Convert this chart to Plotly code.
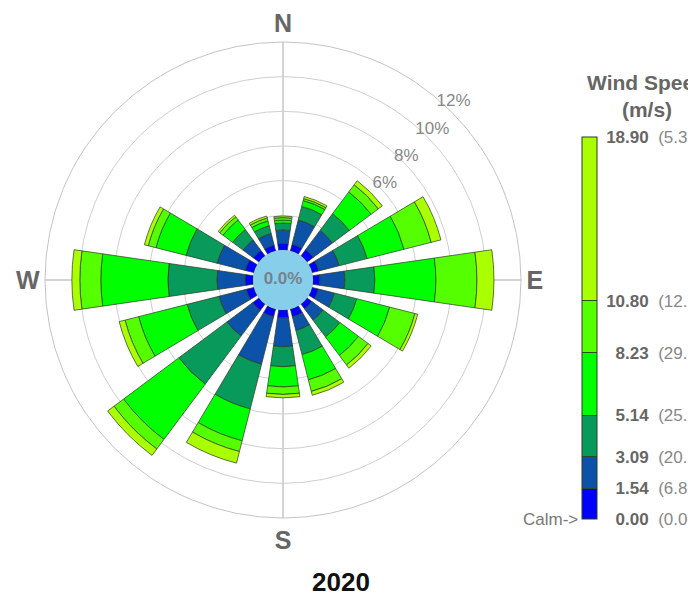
import plotly.graph_objects as go

# ---------------- data ----------------
directions = ["N", "NNE", "NE", "ENE", "E", "ESE", "SE", "SSE",
              "S", "SSW", "SW", "WSW", "W", "WNW", "NW", "NNW"]
speed_edges = [0.00, 1.54, 3.09, 5.14, 8.23, 10.80, 18.90]
legend_pct = ["(0.00%)", "(6.83%)", "(20.52%)", "(25.31%)", "(29.15%)", "(12.29%)", "(5.32%)"]
calm_pct = 0.0
year_label = "2020"

# frequency (%) per speed bin and direction
bin_0_154 = [0.38, 0.40, 0.46, 0.40, 0.40, 0.38, 0.35, 0.46, 0.46, 0.46, 0.46, 0.46, 0.46, 0.52, 0.40, 0.35]
bin_154_309 = [0.78, 1.44, 1.38, 1.21, 1.44, 0.95, 0.81, 0.81, 1.66, 2.83, 1.85, 1.62, 1.62, 1.67, 0.75, 0.69]
bin_309_514 = [0.40, 0.81, 1.21, 1.67, 1.73, 1.33, 1.21, 1.44, 1.15, 2.65, 3.46, 1.90, 2.83, 1.85, 0.75, 0.46]
bin_514_823 = [0.17, 0.35, 1.56, 2.19, 3.52, 1.96, 1.33, 1.50, 1.17, 1.90, 3.98, 2.88, 3.87, 1.79, 0.69, 0.29]
bin_823_1080 = [0.14, 0.12, 0.52, 1.62, 2.37, 1.50, 0.69, 0.69, 0.43, 0.64, 0.69, 0.81, 1.21, 0.46, 0.23, 0.17]
bin_1080_1890 = [0.09, 0.12, 0.29, 0.58, 0.98, 0.17, 0.23, 0.23, 0.20, 0.69, 0.46, 0.35, 0.46, 0.23, 0.12, 0.12]

bins = [bin_0_154, bin_154_309, bin_309_514, bin_514_823, bin_823_1080, bin_1080_1890]
bin_colors = ["#0000FF", "#0B52A8", "#089A5A", "#00FF00", "#55FF00", "#AAFF00"]

radial_ticks = [0, 2, 4, 6, 8, 10, 12]
radial_ticktext = ["", "", "", "6%", "8%", "10%", "12%"]
compass_ticks = [0, 90, 180, 270]
compass_text = ["N", "E", "S", "W"]

# ---------------- figure ----------------
W, H = 688, 601
FONT = "Liberation Sans, Arial, sans-serif"
theta = [i * 360 / len(directions) for i in range(len(directions))]
calm_r = 1.731  # radial extent of the calm disc (axis units)
RAD_ANGLE = 52

fig = go.Figure()

for vals, col, lo, hi in zip(bins, bin_colors, speed_edges[:-1], speed_edges[1:]):
    fig.add_trace(go.Barpolar(
        r=vals, theta=theta, width=16.5,
        marker=dict(color=col, line=dict(color="rgba(45,60,35,0.9)", width=0.8)),
        name=f"{lo:.2f}-{hi:.2f}", showlegend=False,
    ))

# calm disc
fig.add_trace(go.Barpolar(
    r=[calm_r], theta=[0], base=[-calm_r], width=[360],
    marker=dict(color="#87CEEB", line=dict(width=0)),
    showlegend=False, hoverinfo="skip",
))
fig.add_trace(go.Scatterpolar(
    r=[-calm_r], theta=[0], mode="text", text=[f"<b>{calm_pct:.1f}%</b>"],
    textfont=dict(size=17, color="#74838d", family=FONT),
    textposition="middle center", cliponaxis=False, showlegend=False,
))

# colour scale legend (via a colorbar)
cs = []
top = speed_edges[-1]
for lo, hi, col in zip(speed_edges[:-1], speed_edges[1:], bin_colors):
    cs.append([lo / top, col])
    cs.append([hi / top, col])

tick_text = []
for e, p in zip(speed_edges, legend_pct):
    num = f"{e:.2f}"
    pad = "\u00a0\u00a0" if len(num) < 5 else ""
    tick_text.append(f"\u00a0<b>{pad}{num}</b>\u00a0\u00a0<span style='color:#888'>{p}</span>")

fig.add_trace(go.Scatterpolar(
    r=[-calm_r], theta=[0], mode="markers",
    marker=dict(color=[0], cmin=0, cmax=top, colorscale=cs, opacity=0, size=1,
                showscale=True,
                colorbar=dict(
                    x=582 / W, xanchor="left", xpad=0,
                    y=1 - 328.2 / H, yanchor="middle", ypad=0,
                    len=382.3 / H, lenmode="fraction",
                    thickness=15, thicknessmode="pixels",
                    outlinecolor="#2d3b25", outlinewidth=1,
                    tickvals=speed_edges, ticktext=tick_text,
                    ticks="inside", ticklen=15, tickwidth=1, tickcolor="#2d4a20",
                    tickfont=dict(size=17, color="#666", family=FONT),
                )),
    showlegend=False, hoverinfo="skip",
))

fig.update_layout(
    width=W, height=H,
    margin=dict(l=0, r=0, t=0, b=0, autoexpand=False),
    paper_bgcolor="white", plot_bgcolor="white",
    font=dict(family=FONT),
    polar=dict(
        domain=dict(x=[45 / W, 521 / W], y=[1 - 518 / H, 1 - 42 / H]),
        bgcolor="white",
        barmode="stack",
        radialaxis=dict(
            range=[-calm_r, 12], tickvals=radial_ticks, ticktext=radial_ticktext,
            showline=False, gridcolor="#cfcfcf", gridwidth=1,
            angle=RAD_ANGLE, tickangle=RAD_ANGLE,
            tickfont=dict(size=17, color="#888", family=FONT),
            layer="below traces", ticks="",
        ),
        angularaxis=dict(
            rotation=90, direction="clockwise",
            tickvals=compass_ticks, ticktext=[f"<b>{t}</b>" for t in compass_text],
            tickfont=dict(size=25, color="#666", family=FONT),
            showline=True, linecolor="#c4c4c4", linewidth=1,
            gridcolor="#a8a8a8", gridwidth=1, ticks="",
            layer="below traces",
        ),
    ),
    annotations=[
        dict(text="<b>Wind Speed<br>(m/s)</b>", x=647 / W, y=1 - 96 / H,
             xref="paper", yref="paper", xanchor="center", yanchor="middle",
             showarrow=False, align="center",
             font=dict(size=21, color="#666", family=FONT)),
        dict(text="Calm->", x=580 / W, y=1 - 519 / H, xref="paper", yref="paper",
             xanchor="right", yanchor="middle", showarrow=False,
             font=dict(size=17, color="#777", family=FONT)),
        dict(text=f"<b>{year_label}</b>", x=341 / W, y=1 - 582 / H,
             xref="paper", yref="paper", xanchor="center", yanchor="middle",
             showarrow=False, font=dict(size=26, color="#111", family=FONT)),
    ],
)

fig.write_html("out.html")
